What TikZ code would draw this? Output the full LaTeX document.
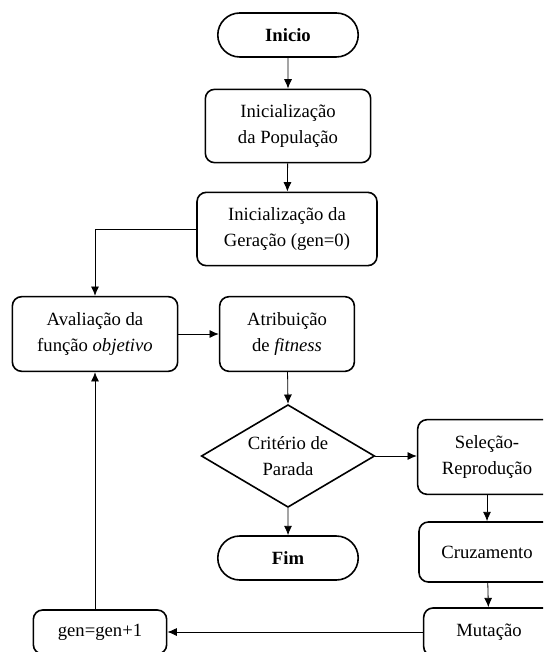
\documentclass[tikz,border=0pt]{standalone}
\usepackage{fontspec}
\setmainfont{Liberation Serif}
\usepackage{tikz}
\usetikzlibrary{arrows,arrows.meta,shapes,positioning}
\usepackage{xcolor}
\definecolor{gablack}{RGB}{0,0,0}
\tikzstyle{arrow} = [line width=0.6pt,-{Latex[length=7pt,width=6pt]},color=gablack]
\tikzstyle{startstop} = [rounded rectangle, minimum width=112pt, minimum height=33pt, text centered, draw=gablack, line width=1.2pt, font=\fontsize{14}{19}\selectfont\bfseries]
\tikzstyle{process} = [rectangle, rounded corners=7pt, align=center, text centered, draw=gablack, line width=1.2pt, inner sep=2pt]
\tikzstyle{decision} = [diamond, aspect=1.68, inner sep=0pt, minimum width=130pt, minimum height=77pt, align=center, draw=gablack, line width=1.2pt]

\begin{document}
\begin{tikzpicture}[x=0.75pt, y=-0.75pt, font=\fontsize{14}{19}\selectfont]
\useasboundingbox (0,0) rectangle (543,652);
\clip (0,0) rectangle (543,652);
% Main column
\node (inicio) [startstop] at (288,35) {Inicio};
\node (pop) [process, minimum width=124pt, minimum height=55pt] at (288,126) {Inicialização\\da População};
\node (ger) [process, minimum width=135pt, minimum height=55pt] at (287,229) {Inicialização da\\Geração (gen=0)};
\node (aval) [process, minimum width=124pt, minimum height=56pt] at (95,334) {Avaliação da\\função \textit{objetivo}};
\node (atrib) [process, minimum width=101pt, minimum height=56pt] at (287,334) {Atribuição\\de \textit{fitness}};
\node (crit) [decision] at (288,456) {Critério de\\Parada};
\node (fim) [startstop] at (288,558) {Fim};
% Genetic operators
\node (sel) [process, minimum width=104pt, minimum height=56pt] at (487,457) {Seleção-\\Reprodução};
\node (cruz) [process, minimum width=102pt, minimum height=45pt] at (487,552) {Cruzamento};
\node (mut) [process, minimum width=98pt, minimum height=36pt] at (489,632) {Mutação};
\node (gen) [process, minimum width=100pt, minimum height=33pt] at (100,632) {gen=gen+1};

\draw[arrow] (inicio) -- (pop);
\draw[arrow] (pop) -- (ger);
\draw[arrow] (ger.west) -| (aval.north);
\draw[arrow] (aval) -- (atrib);
\draw[arrow] (atrib) -- (crit.north);
\draw[arrow] (crit) -- (fim);
\draw[arrow] (crit.east) -- (sel.west |- crit.east);
\draw[arrow] (sel) -- (cruz);
\draw[arrow] (cruz) -- (mut);
\draw[arrow] (mut.west) -- (gen.east);
\draw[arrow] (aval.south |- gen.north) -- (aval.south);
\end{tikzpicture}
\end{document}
